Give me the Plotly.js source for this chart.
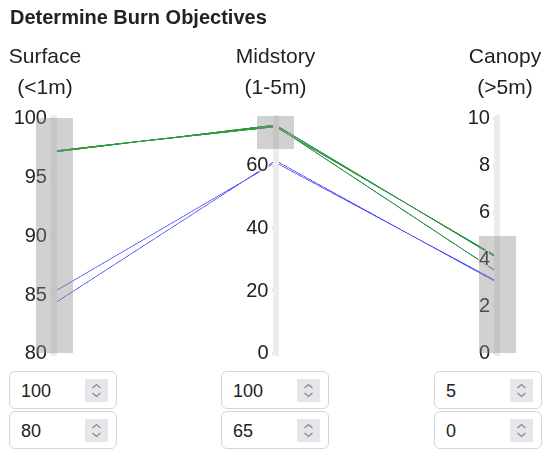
<!DOCTYPE html>
<html>
<head>
<meta charset="utf-8">
<script src="https://cdn.plot.ly/plotly-3.0.1.min.js"></script>
<style>
  body { margin: 0; background: #fff; font-family: "Liberation Sans", Arial, sans-serif; }
  #wrap { position: relative; width: 550px; height: 457px; overflow: hidden; }
  #title { position: absolute; left: 10px; top: 6px; font-size: 20px; font-weight: bold; color: #222; z-index: 2; }
  #plotArea { position: absolute; left: 0; top: 0; width: 550px; height: 365px; }
  .num { position: absolute; width: 108px; height: 38px; border: 1px solid #d3d6dc; border-radius: 6px;
         box-sizing: border-box; background: #fff; font-size: 18px; color: #222; }
  .num span { position: absolute; left: 11px; top: 9px; }
  .num svg { position: absolute; left: 75px; top: 7px; }

  /* axis look */
  #plotArea .axis .domain { stroke: #ececec !important; stroke-width: 6px !important; stroke-opacity: 1 !important; }
  #plotArea .axis .tick line { stroke: #e6e6e6 !important; stroke-width: 3px !important; stroke-opacity: 1 !important; }
  #plotArea .highlight { stroke: rgba(140,140,140,0.4) !important; stroke-width: 37px !important; opacity: 1 !important; }
  #plotArea .highlight-shadow { display: none; }
  #plotArea .axis-extent-top, #plotArea .axis-extent-bottom { display: none; }
  #plotArea .axis-title { transform: translate(0px, -53px); }
  #plotArea .y-axis:first-of-type .axis-title { transform: translate(-9px, -53px); }
  #plotArea .y-axis:last-of-type .axis-title { transform: translate(8px, -53px); }
  #plotArea .axis-title tspan.line + tspan.line { baseline-shift: -4px; }
  /* bolder webgl lines */
  #plotArea .gl-canvas-focus, #plotArea .gl-canvas-context { filter: url(#boost); }
</style>
</head>
<body>
<svg width="0" height="0" style="position:absolute">
  <filter id="boost" x="0" y="0" width="100%" height="100%">
    <feColorMatrix type="matrix" values="1 0 0 0 0  0 1 0 0 0  0 0 1 0 0  0 0 0 1.8 0"/>
  </filter>
</svg>
<div id="wrap">
  <div id="plotArea"></div>
  <div id="title">Determine Burn Objectives</div>
  <div id="inputs"></div>
</div>
<script>
// line values per axis (one entry per line)
var surface  = [97.2, 97.1, 97.2, 85.2, 84.2];
var midstory = [72.2, 72.8, 72.5, 60.8, 61.4];
var canopy   = [4.1, 4.05, 3.45, 3.05, 3.0];

var labels = ["Surface<br>(<1m)", "Midstory<br>(1-5m)", "Canopy<br>(>5m)"];
var ranges = [[80, 100], [0, 75], [0, 10]];
var constraints = [[80, 100], [65, 100], [0, 5]];

// min / max shown in the number boxes
var boxMax = [100, 100, 5];
var boxMin = [80, 65, 0];

var cols = [surface, midstory, canopy];
var dims = cols.map(function (v, i) {
  return {
    label: labels[i],
    values: v,
    range: ranges[i],
    constraintrange: constraints[i]
  };
});

var trace = [{
  type: "parcoords",
  dimensions: dims,
  line: { color: "rgb(40,160,40)" },
  unselected: { line: { color: "rgb(80,80,255)", opacity: 0.85 } },
  labelfont: { size: 21, color: "#222" },
  tickfont: { size: 20, color: "#222" },
  rangefont: { size: 12, color: "#222" }
}];

var layout = {
  width: 550,
  height: 365,
  margin: { l: 54, r: 53, t: 116, b: 10 },
  paper_bgcolor: "rgba(0,0,0,0)",
  font: { family: "Liberation Sans, Arial, sans-serif" }
};

Plotly.newPlot("plotArea", trace, layout, { displayModeBar: false });

// number boxes under each axis
var spin = '<svg width="23" height="23"><rect width="23" height="23" fill="#e6e6ea"/>' +
  '<path d="M7.5 9 L11.5 5.5 L15.5 9" stroke="#8a8a90" stroke-width="1.3" fill="none"/>' +
  '<path d="M7.5 14 L11.5 17.5 L15.5 14" stroke="#8a8a90" stroke-width="1.3" fill="none"/></svg>';
var boxX = [9, 221, 434];
var html = "";
boxX.forEach(function (x, i) {
  html += '<div class="num" style="left:' + x + 'px;top:371px"><span>' + boxMax[i] + '</span>' + spin + '</div>';
  html += '<div class="num" style="left:' + x + 'px;top:411px"><span>' + boxMin[i] + '</span>' + spin + '</div>';
});
document.getElementById("inputs").innerHTML = html;
</script>
</body>
</html>
